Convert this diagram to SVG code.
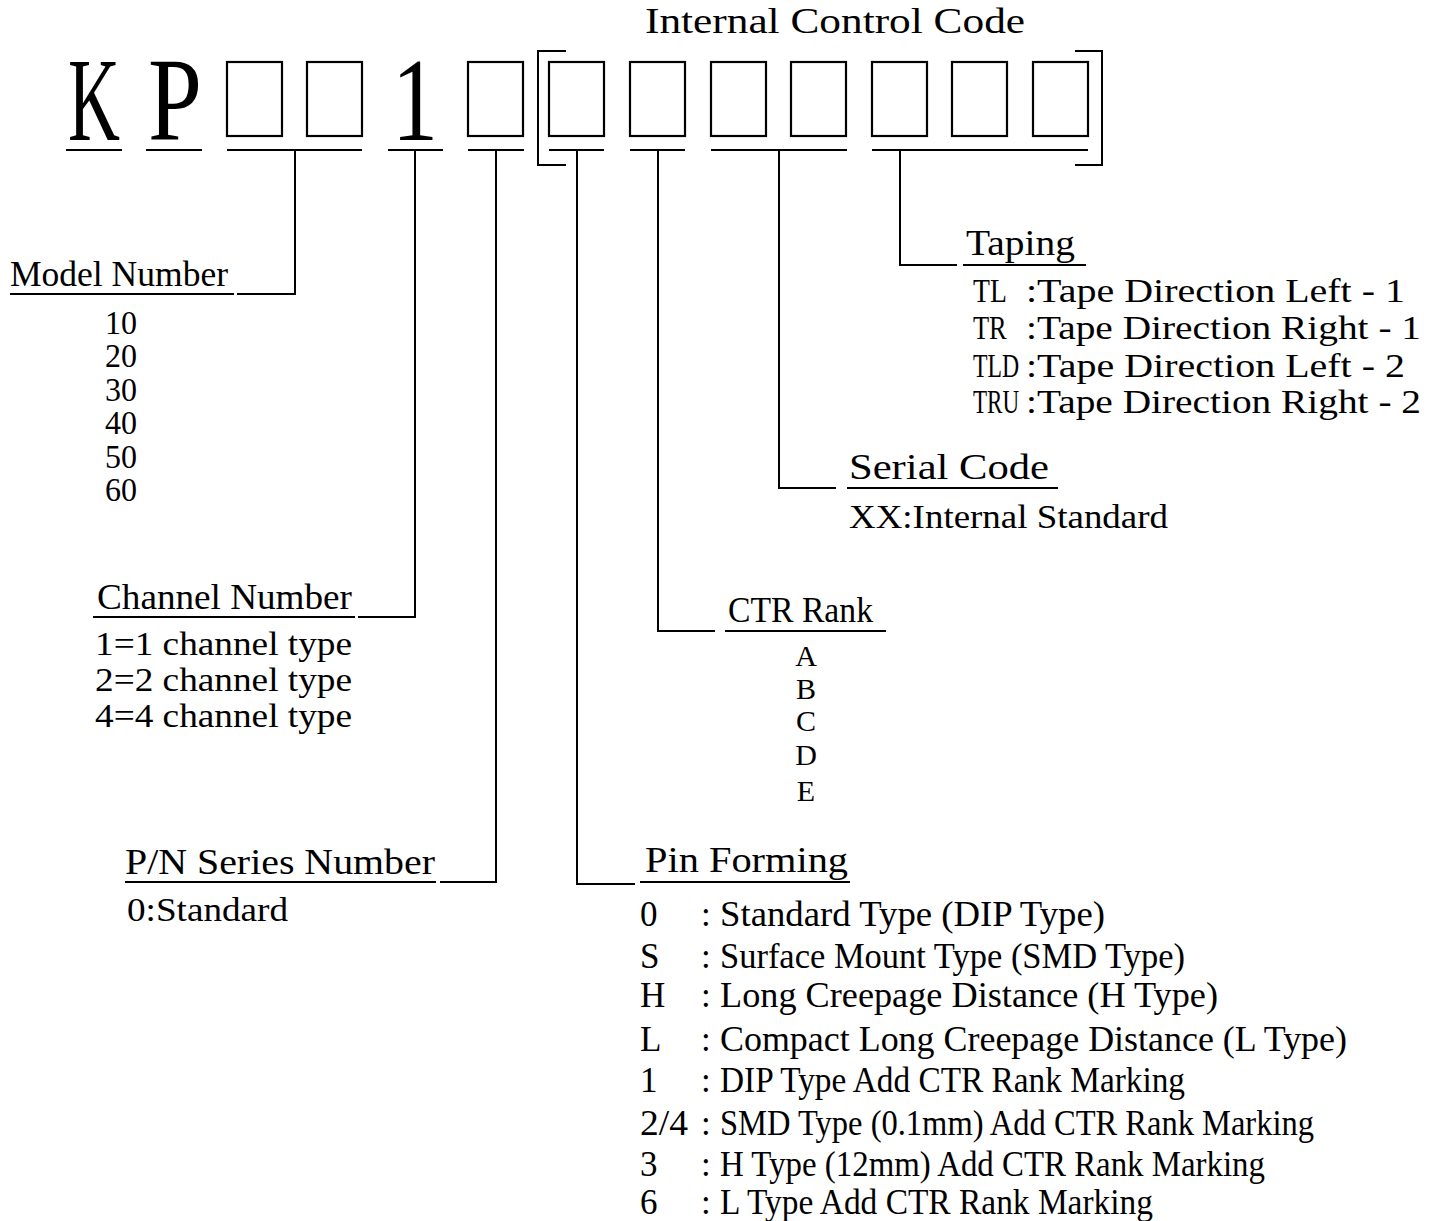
<svg xmlns="http://www.w3.org/2000/svg" width="1440" height="1221" viewBox="0 0 1440 1221">
<style>
text{font-family:"Liberation Serif","DejaVu Serif",serif;fill:#000}
.big{font-size:118px}
.lbl{font-size:35px}
.itm{font-size:33px}
.rk{font-size:30px}
.pin{font-size:35px}
.ln{stroke:#000;stroke-width:2;fill:none}
.box{stroke:#000;stroke-width:2.2;fill:#fff}
</style>
<rect width="1440" height="1221" fill="#fff"/>
<g id="title"><text class="lbl" x="645" y="33" textLength="380" lengthAdjust="spacingAndGlyphs">Internal Control Code</text></g>
<g id="code">
<text class="big" x="68" y="140" textLength="52" lengthAdjust="spacingAndGlyphs">K</text>
<text class="big" x="148" y="140" textLength="54" lengthAdjust="spacingAndGlyphs">P</text>
<text class="big" x="392" y="140" textLength="46" lengthAdjust="spacingAndGlyphs">1</text>
<rect class="box" x="227" y="62" width="55" height="74"/>
<rect class="box" x="307" y="62" width="55" height="74"/>
<rect class="box" x="468" y="62" width="55" height="74"/>
<rect class="box" x="549" y="62" width="55" height="74"/>
<rect class="box" x="630" y="62" width="55" height="74"/>
<rect class="box" x="711" y="62" width="55" height="74"/>
<rect class="box" x="791" y="62" width="55" height="74"/>
<rect class="box" x="872" y="62" width="55" height="74"/>
<rect class="box" x="952" y="62" width="55" height="74"/>
<rect class="box" x="1033" y="62" width="55" height="74"/>
<path class="ln" d="M566 51H538V165H566M1075 51H1102V165H1075"/>
<path class="ln" d="M66 150H122M146 150H202M227 150H362M388 150H443M468 150H524M549 150H604M630 150H685M711 150H847M872 150H1088"/>
</g>
<g id="connectors">
<path class="ln" d="M295 150V294H237"/>
<path class="ln" d="M415 150V617H358"/>
<path class="ln" d="M496 150V882H440"/>
<path class="ln" d="M577 150V884H635"/>
<path class="ln" d="M658 150V631H715"/>
<path class="ln" d="M779 150V488H836"/>
<path class="ln" d="M900 150V265H957"/>
</g>
<g id="model-number">
<text class="lbl" x="10" y="286" textLength="218" lengthAdjust="spacingAndGlyphs">Model Number</text>
<path class="ln" d="M10 294H234"/>
<text class="itm" x="105" y="334" textLength="32" lengthAdjust="spacingAndGlyphs">10</text>
<text class="itm" x="105" y="367" textLength="32" lengthAdjust="spacingAndGlyphs">20</text>
<text class="itm" x="105" y="401" textLength="32" lengthAdjust="spacingAndGlyphs">30</text>
<text class="itm" x="105" y="434" textLength="32" lengthAdjust="spacingAndGlyphs">40</text>
<text class="itm" x="105" y="468" textLength="32" lengthAdjust="spacingAndGlyphs">50</text>
<text class="itm" x="105" y="501" textLength="32" lengthAdjust="spacingAndGlyphs">60</text>
</g>
<g id="channel-number">
<text class="lbl" x="97" y="609" textLength="255" lengthAdjust="spacingAndGlyphs">Channel Number</text>
<path class="ln" d="M93 617H355"/>
<text class="itm" x="95" y="655" textLength="257" lengthAdjust="spacingAndGlyphs">1=1 channel type</text>
<text class="itm" x="95" y="691" textLength="257" lengthAdjust="spacingAndGlyphs">2=2 channel type</text>
<text class="itm" x="95" y="727" textLength="257" lengthAdjust="spacingAndGlyphs">4=4 channel type</text>
</g>
<g id="pn-series">
<text class="lbl" x="125" y="874" textLength="310" lengthAdjust="spacingAndGlyphs">P/N Series Number</text>
<path class="ln" d="M125 882H436"/>
<text class="itm" x="127" y="921" textLength="161" lengthAdjust="spacingAndGlyphs">0:Standard</text>
</g>
<g id="pin-forming">
<text class="lbl" x="645" y="872" textLength="203" lengthAdjust="spacingAndGlyphs">Pin Forming</text>
<path class="ln" d="M640 882H850"/>
<text class="pin" x="640" y="926">0</text>
<text class="pin" x="640" y="968">S</text>
<text class="pin" x="640" y="1007">H</text>
<text class="pin" x="640" y="1051">L</text>
<text class="pin" x="640" y="1092">1</text>
<text class="pin" x="640" y="1135" textLength="48" lengthAdjust="spacingAndGlyphs">2/4</text>
<text class="pin" x="640" y="1176">3</text>
<text class="pin" x="640" y="1214">6</text>
<text class="pin" x="701" y="926">:</text>
<text class="pin" x="701" y="968">:</text>
<text class="pin" x="701" y="1007">:</text>
<text class="pin" x="701" y="1051">:</text>
<text class="pin" x="701" y="1092">:</text>
<text class="pin" x="701" y="1135">:</text>
<text class="pin" x="701" y="1176">:</text>
<text class="pin" x="701" y="1214">:</text>
<text class="pin" x="720" y="926" textLength="385" lengthAdjust="spacingAndGlyphs">Standard Type (DIP Type)</text>
<text class="pin" x="720" y="968" textLength="465" lengthAdjust="spacingAndGlyphs">Surface Mount Type (SMD Type)</text>
<text class="pin" x="720" y="1007" textLength="498" lengthAdjust="spacingAndGlyphs">Long Creepage Distance (H Type)</text>
<text class="pin" x="720" y="1051" textLength="627" lengthAdjust="spacingAndGlyphs">Compact Long Creepage Distance (L Type)</text>
<text class="pin" x="720" y="1092" textLength="465" lengthAdjust="spacingAndGlyphs">DIP Type Add CTR Rank Marking</text>
<text class="pin" x="720" y="1135" textLength="594" lengthAdjust="spacingAndGlyphs">SMD Type (0.1mm) Add CTR Rank Marking</text>
<text class="pin" x="720" y="1176" textLength="545" lengthAdjust="spacingAndGlyphs">H Type (12mm) Add CTR Rank Marking</text>
<text class="pin" x="720" y="1214" textLength="433" lengthAdjust="spacingAndGlyphs">L Type Add CTR Rank Marking</text>
</g>
<g id="ctr-rank">
<text class="lbl" x="728" y="622" textLength="145" lengthAdjust="spacingAndGlyphs">CTR Rank</text>
<path class="ln" d="M725 631H886"/>
<g text-anchor="middle">
<text class="rk" x="806" y="666">A</text>
<text class="rk" x="806" y="699">B</text>
<text class="rk" x="806" y="731">C</text>
<text class="rk" x="806" y="765">D</text>
<text class="rk" x="806" y="801">E</text>
</g>
</g>
<g id="serial-code">
<text class="lbl" x="849" y="479" textLength="200" lengthAdjust="spacingAndGlyphs">Serial Code</text>
<path class="ln" d="M847 488H1058"/>
<text class="itm" x="849" y="528" textLength="319" lengthAdjust="spacingAndGlyphs">XX:Internal Standard</text>
</g>
<g id="taping">
<text class="lbl" x="966" y="255" textLength="109" lengthAdjust="spacingAndGlyphs">Taping</text>
<path class="ln" d="M963 265H1086"/>
<text class="itm" transform="matrix(0.84 0 0 1 973 302)">TL</text>
<text class="itm" transform="matrix(0.8 0 0 1 973 339)">TR</text>
<text class="itm" transform="matrix(0.72 0 0 1 973 377)">TLD</text>
<text class="itm" transform="matrix(0.7 0 0 1 973 413)">TRU</text>
<text class="itm" x="1026" y="302" textLength="379" lengthAdjust="spacingAndGlyphs">:Tape Direction Left - 1</text>
<text class="itm" x="1026" y="339" textLength="395" lengthAdjust="spacingAndGlyphs">:Tape Direction Right - 1</text>
<text class="itm" x="1026" y="377" textLength="379" lengthAdjust="spacingAndGlyphs">:Tape Direction Left - 2</text>
<text class="itm" x="1026" y="413" textLength="395" lengthAdjust="spacingAndGlyphs">:Tape Direction Right - 2</text>
</g>
</svg>
